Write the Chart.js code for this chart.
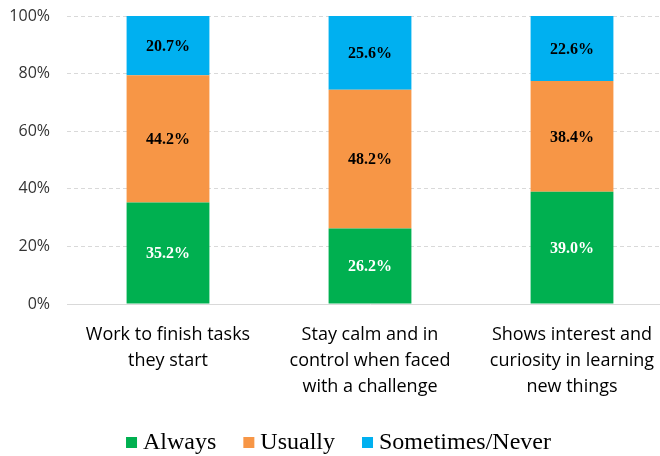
<!DOCTYPE html>
<html>
<head>
<meta charset="utf-8">
<script src="https://cdn.jsdelivr.net/npm/chart.js@4.4.1/dist/chart.umd.min.js"></script>
<style>
  html, body { margin: 0; padding: 0; background: #fff; overflow: hidden; }
  #wrap { position: relative; width: 673px; height: 456px; }
</style>
</head>
<body>
<div id="wrap"><canvas id="c" width="673" height="456"></canvas></div>
<script>
// Survey items (multi-line category labels)
const categories = [
  ['Work to finish tasks', 'they start'],
  ['Stay calm and in', 'control when faced', 'with a challenge'],
  ['Shows interest and', 'curiosity in learning', 'new things']
];
const seriesNames = ['Always', 'Usually', 'Sometimes/Never'];
const always = [35.2, 26.2, 39.0];
const usually = [44.2, 48.2, 38.4];
const sometimesNever = [20.7, 25.6, 22.6];
const yTicks = [0, 20, 40, 60, 80, 100];

const colors = ['#00B050', '#F79646', '#00B0F0'];
const labelColors = ['#ffffff', '#000000', '#000000'];
const serif = '"Liberation Serif", "Times New Roman", serif';

// Writes each segment's percentage in the middle of its bar piece
const segmentLabels = {
  id: 'segmentLabels',
  afterDatasetsDraw(chart) {
    const ctx = chart.ctx;
    ctx.save();
    ctx.font = 'bold 16px ' + serif;
    ctx.textAlign = 'center';
    ctx.textBaseline = 'middle';
    chart.data.datasets.forEach((ds, di) => {
      const meta = chart.getDatasetMeta(di);
      meta.data.forEach((bar, i) => {
        const v = ds.data[i];
        const top = Math.max(bar.y, chart.chartArea.top);
        ctx.fillStyle = labelColors[di];
        ctx.fillText(v.toFixed(1) + '%', bar.x, (top + bar.base) / 2 + 1);
      });
    });
    ctx.restore();
  }
};

// Compact legend row under the axis: square swatch, small gap, serif name
const seriesLegend = {
  id: 'seriesLegend',
  afterDraw(chart) {
    const ctx = chart.ctx;
    const box = 11, gap = 6, spacing = 27, baseline = 449;
    ctx.save();
    ctx.font = '24px ' + serif;
    ctx.textBaseline = 'alphabetic';
    ctx.textAlign = 'left';
    const items = chart.data.datasets.map(ds => ({
      text: ds.label, color: ds.backgroundColor, w: ctx.measureText(ds.label).width
    }));
    const total = items.reduce((s, it) => s + box + gap + it.w, 0) + spacing * (items.length - 1);
    let x = chart.width / 2 + 2 - total / 2;
    items.forEach(it => {
      ctx.fillStyle = it.color;
      ctx.fillRect(x, 437, box, box);
      ctx.fillStyle = '#000';
      ctx.fillText(it.text, x + box + gap, baseline);
      x += box + gap + it.w + spacing;
    });
    ctx.restore();
  }
};

new Chart(document.getElementById('c'), {
  type: 'bar',
  data: {
    labels: categories,
    datasets: [always, usually, sometimesNever].map((d, i) => ({
      label: seriesNames[i],
      data: d,
      backgroundColor: colors[i],
      borderWidth: 0,
      categoryPercentage: 1,
      barPercentage: 0.41
    }))
  },
  options: {
    responsive: false,
    animation: false,
    layout: { padding: { top: 16, right: 0, bottom: 52, left: 0 } },
    plugins: {
      legend: { display: false },
      tooltip: { enabled: false }
    },
    scales: {
      x: {
        stacked: true,
        grid: { display: false },
        border: { display: true, color: '#d9d9d9', width: 1 },
        ticks: {
          color: '#000',
          padding: 10,
          maxRotation: 0,
          autoSkip: false,
          font: { family: '"Open Sans", sans-serif', size: 18, lineHeight: 1.45 }
        },
        afterFit(scale) { scale.height = 100; }
      },
      y: {
        stacked: true,
        min: 0,
        max: 100,
        afterBuildTicks(scale) { scale.ticks = yTicks.map(v => ({ value: v })); },
        afterFit(scale) {
          scale.width = 67;
          scale.paddingTop = 0;
          scale.paddingBottom = 0;
        },
        grid: {
          color: ctx => ctx.tick && ctx.tick.value === 0 ? 'rgba(0,0,0,0)' : '#d9d9d9',
          drawTicks: false,
          lineWidth: 1
        },
        border: { display: false, dash: [4, 3] },
        ticks: {
          color: '#333',
          padding: 17,
          font: { family: '"Open Sans", sans-serif', size: 16 },
          callback: v => v + '%'
        }
      }
    }
  },
  plugins: [segmentLabels, seriesLegend]
});
</script>
</body>
</html>
